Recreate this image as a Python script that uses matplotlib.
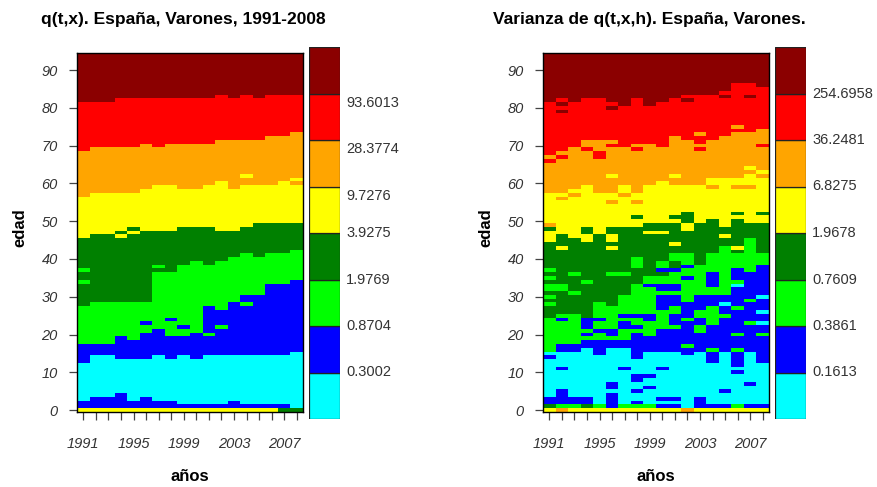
import numpy as np
import matplotlib
matplotlib.use("Agg")
import matplotlib.pyplot as plt
from matplotlib.colors import ListedColormap, BoundaryNorm
from matplotlib.patches import Rectangle

plt.rcParams['font.family'] = ['Liberation Sans', 'DejaVu Sans']

# ---- data ----
years = np.arange(1991, 2009)
ages = np.arange(0, 95)
year_labels = ['1991', '1995', '1999', '2003', '2007']
age_ticks = [0, 10, 20, 30, 40, 50, 60, 70, 80, 90]

# class colours, lowest class first
colores = ['#00FFFF', '#0000FF', '#00FF00', '#008000',
           '#FFFF00', '#FFA500', '#FF0000', '#8B0000']

q_breaks = ['0.3002', '0.8704', '1.9769', '3.9275', '9.7276', '28.3774', '93.6013']
v_breaks = ['0.1613', '0.3861', '0.7609', '1.9678', '6.8275', '36.2481', '254.6958']

# q(t,x): highest age of each class per year (cyan .. red), dark red above
q_cyan   = [12, 14, 14, 13, 13, 13, 14, 13, 14, 13, 14, 14, 14, 14, 14, 14, 14, 15]
q_blue   = [17, 17, 17, 19, 18, 20, 21, 19, 19, 20, 27, 26, 28, 30, 30, 33, 33, 34]
q_green  = [27, 28, 28, 28, 28, 28, 36, 36, 38, 39, 38, 39, 40, 41, 40, 41, 41, 42]
q_dgreen = [45, 46, 46, 45, 46, 47, 47, 47, 48, 48, 48, 47, 47, 48, 49, 49, 49, 49]
q_yellow = [56, 57, 57, 57, 57, 58, 59, 59, 58, 58, 59, 60, 58, 59, 59, 59, 60, 61]
q_orange = [68, 69, 69, 69, 69, 70, 69, 70, 70, 70, 70, 71, 71, 71, 71, 72, 72, 73]
q_red    = [81, 81, 81, 82, 82, 82, 82, 82, 82, 82, 82, 83, 82, 83, 82, 83, 83, 83]
q_row0   = [4, 4, 4, 4, 4, 4, 4, 4, 4, 4, 4, 4, 4, 4, 4, 4, 3, 3]
q_row1   = [1, 1, 1, 1, 1, 1, 1, 1, 1, 1, 1, 1, 1, 1, 1, 1, 1, 0]
# (year, from age, to age, class)
q_islands = [(1991, 2, 2, 1), (1992, 2, 3, 1), (1993, 2, 3, 1), (1994, 2, 4, 1),
             (1995, 2, 2, 1), (1996, 2, 3, 1), (1997, 2, 2, 1), (1998, 2, 2, 1),
             (2003, 2, 2, 1),
             (1991, 37, 37, 2), (1991, 34, 34, 2), (1994, 47, 47, 3), (1995, 48, 48, 3),
             (1997, 38, 38, 2), (1996, 23, 23, 1), (1998, 24, 24, 1), (1999, 22, 22, 1),
             (2001, 20, 20, 2), (2002, 22, 22, 2), (2004, 28, 28, 2), (2004, 62, 62, 4),
             (2008, 60, 60, 5)]

# varianza de q(t,x,h)
v_cyan   = [13, 15, 15, 16, 14, 16, 16, 13, 15, 15, 15, 14, 15, 12, 15, 11, 15, 12]
v_blue   = [14, 17, 17, 18, 18, 18, 18, 20, 19, 21, 30, 28, 30, 36, 30, 37, 36, 38]
v_green  = [24, 25, 25, 24, 28, 27, 30, 33, 35, 39, 41, 41, 38, 41, 43, 41, 45, 41]
v_dgreen = [44, 46, 45, 48, 46, 48, 48, 48, 49, 49, 49, 52, 49, 50, 48, 50, 49, 49]
v_yellow = [57, 57, 58, 59, 57, 57, 59, 57, 59, 60, 59, 59, 59, 61, 61, 61, 62, 63]
v_orange = [67, 68, 69, 71, 71, 71, 69, 70, 70, 69, 72, 71, 70, 71, 72, 73, 73, 74]
v_red    = [81, 82, 81, 82, 82, 81, 80, 82, 80, 81, 82, 83, 83, 83, 84, 86, 86, 85]
v_row0   = [4, 5, 4, 4, 4, 4, 4, 4, 4, 4, 4, 5, 4, 4, 4, 4, 4, 4]
v_row1   = [3, 2, 2, 3, 2, 1, 2, 2, 2, 1, 1, 0, 1, 1, 1, 2, 1, 1]
v_islands = [
    (1992, 81, 81, 7), (1992, 79, 79, 7), (1996, 80, 80, 7), (2002, 82, 82, 7),
    (2005, 83, 83, 7), (2007, 83, 83, 7),
    (1991, 66, 66, 6), (1992, 67, 67, 6), (1994, 69, 69, 6), (1995, 67, 68, 6),
    (1996, 70, 70, 6), (1998, 69, 69, 6), (2003, 73, 73, 5), (2003, 69, 69, 6),
    (2006, 75, 75, 5), (2008, 70, 70, 6),
    (1992, 56, 56, 5), (1993, 57, 57, 5), (1996, 62, 62, 4), (1996, 55, 55, 5),
    (1997, 57, 57, 5), (1998, 55, 55, 5), (2001, 62, 62, 4), (2004, 59, 59, 5),
    (2006, 59, 59, 5), (2007, 64, 64, 4), (2007, 59, 59, 5), (2008, 62, 62, 5),
    (1991, 48, 48, 3), (1991, 49, 49, 5), (1998, 51, 51, 3), (2001, 51, 51, 3),
    (2006, 52, 52, 3), (2008, 52, 52, 3),
    (1992, 43, 43, 4), (1994, 45, 46, 4), (1996, 45, 46, 4), (1996, 43, 43, 4),
    (1999, 47, 47, 4), (2000, 47, 47, 4), (2001, 44, 44, 4), (2002, 48, 49, 4),
    (2005, 46, 46, 4), (2006, 43, 43, 4),
    (1991, 37, 37, 2), (1991, 35, 35, 2), (1991, 32, 33, 2), (1991, 30, 30, 2),
    (1991, 28, 28, 2), (1992, 32, 33, 2), (1992, 26, 27, 3), (1993, 36, 36, 2),
    (1993, 31, 31, 2), (1994, 34, 34, 2), (1996, 36, 36, 2), (1997, 36, 36, 2),
    (1998, 38, 40, 2), (1999, 37, 37, 3), (2000, 36, 36, 3), (2001, 38, 39, 3),
    (1992, 24, 24, 1), (1994, 22, 24, 1), (1994, 20, 20, 1), (1995, 24, 24, 1),
    (1995, 21, 21, 1), (1996, 20, 21, 1), (1997, 22, 23, 1), (1997, 25, 25, 1),
    (1998, 22, 22, 1), (1998, 25, 25, 1), (1999, 24, 25, 1), (1999, 33, 33, 1),
    (2000, 27, 30, 1), (2000, 32, 33, 1), (2000, 37, 37, 1), (2001, 37, 37, 1),
    (2001, 32, 33, 1), (2001, 26, 27, 2), (2001, 22, 22, 2), (2002, 38, 38, 1),
    (2002, 35, 35, 1), (2002, 24, 24, 2), (2002, 17, 17, 2), (2003, 25, 26, 2),
    (2003, 21, 22, 2), (2004, 31, 32, 2), (2004, 23, 27, 2), (2004, 16, 16, 2),
    (2005, 35, 37, 2), (2005, 25, 25, 2), (2006, 33, 34, 2), (2006, 27, 27, 2),
    (2006, 20, 20, 2), (2006, 16, 16, 2), (2007, 29, 29, 2), (2007, 23, 23, 2),
    (2008, 20, 20, 2),
    (1991, 15, 15, 0), (2005, 28, 28, 0), (2006, 33, 33, 0), (2008, 30, 30, 0),
    (2008, 26, 26, 0), (2008, 23, 23, 0),
    (1992, 11, 11, 1), (1997, 11, 11, 1), (2000, 11, 11, 1), (2006, 10, 10, 1),
    (1998, 8, 9, 1), (1999, 9, 9, 1), (1996, 6, 7, 1), (2007, 7, 7, 1),
    (1999, 6, 6, 1), (1998, 5, 5, 1), (2005, 5, 5, 1), (1992, 4, 5, 1),
    (1996, 1, 4, 1), (1991, 2, 3, 1), (1992, 2, 3, 1), (1993, 2, 3, 1),
    (1994, 2, 3, 1), (1998, 2, 2, 1), (2000, 3, 3, 1), (2001, 3, 3, 1),
    (2003, 2, 3, 1),
]


def build_grid(tops, row0, row1, islands):
    z = np.full((len(ages), len(years)), 7)
    for k in range(len(tops) - 1, -1, -1):
        for j, t in enumerate(tops[k]):
            z[:t + 1, j] = k
    z[0, :] = row0
    z[1, :] = row1
    for yr, a0, a1, k in islands:
        z[a0:a1 + 1, yr - years[0]] = k
    return z


cmap = ListedColormap(colores)
norm = BoundaryNorm(np.arange(-0.5, 8.5, 1), cmap.N)

W, H = 878, 487
fig = plt.figure(figsize=(W / 100, H / 100), dpi=100)


def px_axes(x0, y0, x1, y1):
    return fig.add_axes([x0 / W, 1 - y1 / H, (x1 - x0) / W, (y1 - y0) / H])


def draw(x0, z, title, breaks, shift):
    ax = px_axes(x0, 53, x0 + 226, 412)
    xe = np.append(years - 0.5, years[-1] + 0.5)
    ye = np.append(ages - 0.5, ages[-1] + 0.5)
    ax.pcolormesh(xe, ye, z, cmap=cmap, norm=norm, shading='flat', antialiased=False)
    ax.set_xlim(xe[0], xe[-1])
    ax.set_ylim(ye[0], ye[-1])
    ax.set_xticks(years)
    ax.set_xticklabels([str(y) if str(y) in year_labels else '' for y in years])
    ax.set_yticks(age_ticks)
    ax.set_yticklabels([str(a) for a in age_ticks])
    ax.tick_params(length=5.8, width=0.9, color='#444444', labelsize=10.5,
                   labelcolor='#333333')
    ax.tick_params(axis='x', pad=12)
    ax.tick_params(axis='y', pad=8)
    for lab in ax.get_xticklabels() + ax.get_yticklabels():
        lab.set_fontstyle('italic')
    for s in ax.spines.values():
        s.set_linewidth(1.0)

    cx = x0 + 232
    cax = px_axes(cx, 47, cx + 31, 419)
    for i, c in enumerate(colores):
        cax.add_patch(Rectangle((0, i), 1, 1, facecolor=c, edgecolor='#222222', linewidth=0.9))
    cax.set_xlim(0, 1)
    cax.set_ylim(0, 8)
    cax.axis('off')
    for i, b in enumerate(breaks):
        cax.text(1.2, i + 1 - shift[i], b, transform=cax.get_yaxis_transform(),
                 ha='left', va='center', fontsize=10.5, color='#333333')

    xc = x0 + 113
    fig.text((xc - 7) / W, 1 - 24 / H, title, ha='center', va='baseline',
             fontsize=12.5, fontweight='bold')
    fig.text(xc / W, 1 - 481 / H, 'años', ha='center', va='baseline',
             fontsize=12, fontweight='bold')
    fig.text((x0 - 57) / W, 1 - 228 / H, 'edad', ha='center', va='center',
             rotation=90, fontsize=12, fontweight='bold')


zq = build_grid([q_cyan, q_blue, q_green, q_dgreen, q_yellow, q_orange, q_red],
                q_row0, q_row1, q_islands)
zv = build_grid([v_cyan, v_blue, v_green, v_dgreen, v_yellow, v_orange, v_red],
                v_row0, v_row1, v_islands)

draw(77, zq, 'q(t,x). España, Varones, 1991-2008', q_breaks,
     [0, 0, 0, 0, 0.2, 0.2, 0.2])
draw(543, zv, 'Varianza de q(t,x,h). España, Varones.', v_breaks,
     [0, 0, 0, 0, 0, 0, 0])

fig.savefig('out.png', dpi=100)
